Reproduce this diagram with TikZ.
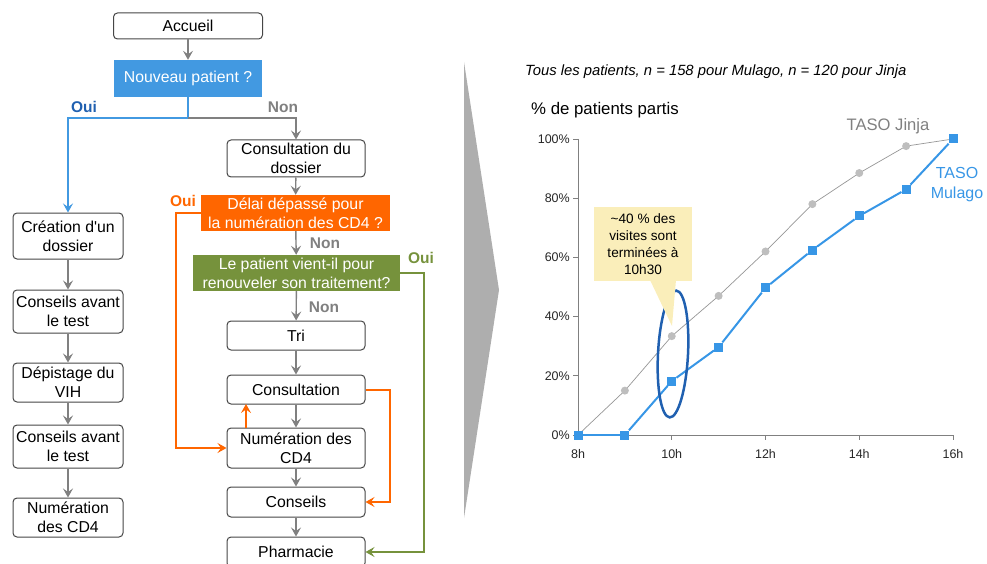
\documentclass[tikz,border=0pt]{standalone}
\usepackage{fontspec}
\setmainfont{Liberation Sans}
\usetikzlibrary{positioning,calc,arrows.meta,shapes.geometric}

\begin{document}
\begin{tikzpicture}[x=1pt, y=-1pt,
                    font=\fontsize{15.8}{19}\selectfont]
  \definecolor{boxedge}{RGB}{70,70,70}
  \definecolor{flowgray}{RGB}{128,128,128}
  \definecolor{askblue}{RGB}{66,153,225}
  \definecolor{ouiblue}{RGB}{32,96,176}
  \definecolor{delaiorange}{RGB}{255,102,0}
  \definecolor{renewolive}{RGB}{118,146,60}
  \definecolor{mulagoblue}{RGB}{55,150,230}
  \definecolor{jinjagray}{RGB}{150,150,150}
  \definecolor{jinjadot}{RGB}{190,190,190}
  \definecolor{notefill}{RGB}{250,238,186}
  \definecolor{chevrongray}{RGB}{174,174,174}
  \tikzset{
    stepbox/.style={draw=boxedge, line width=1pt, rounded corners=4pt,
      fill=white, align=center, inner sep=0pt, text=black},
    leftbox/.style={stepbox, minimum width=110pt},
    rightbox/.style={stepbox, minimum width=138pt},
    askbox/.style={align=center, inner sep=0pt, text=white},
    tipshape/.style={-{Stealth[length=9pt,width=10pt,inset=3.5pt]}},
    flowarrow/.style={draw=flowgray, line width=1.4pt, tipshape},
    ouiarrow/.style={draw=askblue, line width=1.6pt, tipshape},
    delaiarrow/.style={draw=delaiorange, line width=2pt, tipshape},
    olivearrow/.style={draw=renewolive, line width=1.5pt, tipshape},
    answer/.style={font=\fontsize{15.5}{17}\selectfont\bfseries, inner sep=0pt},
    axisline/.style={draw=flowgray, line width=0.9pt},
    ticklabel/.style={font=\fontsize{12.5}{14}\selectfont, text=black!85, inner sep=0pt},
    jinjamark/.style={circle, fill=jinjadot, minimum size=8pt, inner sep=0pt},
    mulagomark/.style={rectangle, fill=mulagoblue, minimum size=9pt, inner sep=0pt},
    jinjaline/.style={draw=jinjagray, line width=0.7pt},
    mulagoline/.style={draw=mulagoblue, line width=2pt},
    focusring/.style={ellipse, draw=ouiblue, line width=2.5pt,
      minimum width=30pt, minimum height=127pt, inner sep=0pt}
  }
  \useasboundingbox (0,0) rectangle (987,564);

  % flow on the left
  \node[stepbox, minimum width=149pt, minimum height=26pt] (accueil) at (188,26) {Accueil};
  \node[askbox, fill=askblue, minimum width=148pt, minimum height=37pt] (nouveau) at (188,78.5) {Nouveau patient ?};
  \coordinate (split) at (188,118);
  \node[answer, text=ouiblue] (oui1) at (84,107) {Oui};
  \node[answer, text=flowgray] (non1) at (283,107) {Non};

  \node[leftbox, minimum height=46pt] (creation) at (68,236) {Création d\textquotesingle un\\dossier};
  \node[leftbox, minimum height=43pt] (conseilsa) at (68,311.5) {Conseils avant\\le test};
  \node[leftbox, minimum height=39pt] (depistage) at (68,382.5) {Dépistage du\\VIH};
  \node[leftbox, minimum height=43pt] (conseilsb) at (68,446.5) {Conseils avant\\le test};
  \node[leftbox, minimum height=39pt] (numleft) at (68,517.5) {Numération\\des CD4};

  \node[rightbox, minimum height=37pt] (dossier) at (296,158.5) {Consultation du\\dossier};
  \node[askbox, fill=delaiorange, minimum width=189pt, minimum height=36pt] (delai) at (295.5,213) {Délai dépassé pour\\la numération des CD4 ?};
  \node[askbox, fill=renewolive, minimum width=207pt, minimum height=36pt] (renew) at (296.5,273) {Le patient vient-il pour\\renouveler son traitement?};
  \node[answer, text=delaiorange] (oui2) at (183,201) {Oui};
  \node[answer, text=flowgray] (non2) at (325,243) {Non};
  \node[answer, text=renewolive] (oui3) at (421,258) {Oui};
  \node[answer, text=flowgray] (non3) at (324,307) {Non};
  \node[rightbox, minimum height=29pt] (tri) at (296,335.5) {Tri};
  \node[rightbox, minimum height=29pt] (consult) at (296,389.5) {Consultation};
  \node[rightbox, minimum height=40pt] (numcd) at (296,448) {Numération des\\CD4};
  \node[rightbox, minimum height=30pt] (conseils) at (296,502) {Conseils};
  \node[rightbox, minimum height=30pt] (pharma) at (296,552) {Pharmacie};
  \coordinate (loopright) at (389.5,389.5);
  \coordinate (upfoot) at (246,428);
  \coordinate (uphead) at (246,404);

  \draw[flowarrow] (accueil) -- (nouveau);
  \draw[draw=askblue, line width=1.6pt] (nouveau.south) -- (split);
  \draw[ouiarrow] (split) -| (creation.north);
  \draw[flowarrow] (split) -| (dossier.north);
  \draw[flowarrow] (creation) -- (conseilsa);
  \draw[flowarrow] (conseilsa) -- (depistage);
  \draw[flowarrow] (depistage) -- (conseilsb);
  \draw[flowarrow] (conseilsb) -- (numleft);
  \draw[flowarrow] (dossier) -- (delai);
  \draw[flowarrow] (delai) -- (renew);
  \draw[flowarrow] (renew) -- (tri);
  \draw[flowarrow] (tri) -- (consult);
  \draw[flowarrow] (consult) -- (numcd);
  \draw[flowarrow] (numcd) -- (conseils);
  \draw[flowarrow] (conseils) -- (pharma);
  \draw[delaiarrow] (delai.west) -- ++(-25,0) |- (numcd.west);
  \draw[delaiarrow] (upfoot) -- (uphead);
  \draw[delaiarrow] (consult.east) -- (loopright) |- (conseils.east);
  \draw[olivearrow] (renew.east) -- ++(24,0) |- (pharma.east);

  % chevron
  \fill[chevrongray] (464,62) -- (499,290) -- (464,518) -- cycle;

  % chart on the right
  \node[anchor=west, font=\fontsize{14.8}{17}\selectfont\itshape, inner sep=0pt] (title) at (525,72)
    {Tous les patients, n = 158 pour Mulago, n = 120 pour Jinja};
  \node[anchor=west, font=\fontsize{16.8}{19}\selectfont, inner sep=0pt] (ytitle) at (531,110) {\% de patients partis};
  \node[font=\fontsize{16.6}{19}\selectfont, text=flowgray, inner sep=0pt] (jinjaname) at (888,126) {TASO Jinja};
  \node[font=\fontsize{16}{20}\selectfont, text=mulagoblue, align=center, inner sep=0pt] (mulagoname) at (957,185) {TASO\\Mulago};

  \begin{scope}[shift={(578,435)}, x=46.875pt, y=2.96pt]
    \draw[axisline] (0,100) -- (0,0) -- (8,0);
    \foreach \p in {0,20,...,100} {
      \draw[axisline] (0,\p) -- ++(-5pt,0);
      \node[ticklabel, anchor=east] (ylab\p) at ($(0,\p)+(-8pt,0)$) {\p\%};
    }
    \foreach \x/\hr in {0/8,2/10,4/12,6/14,8/16} {
      \draw[axisline] (\x,0) -- ++(0,-5pt);
      \node[ticklabel, anchor=north] (xlab\hr) at ($(\x,0)+(0,-14pt)$) {\hr h};
    }
    % TASO Jinja
    \foreach \h/\v [count=\i] in {0/0,1/15,2/33.4,3/47,4/62,5/78,6/88.5,7/97.6,8/100}
      \coordinate (j\i) at (\h,\v);
    \foreach \i [count=\k from 2] in {1,...,8}
      \draw[jinjaline] (j\i) -- (j\k);
    \foreach \i in {1,...,9}
      \node[jinjamark] (jdot\i) at (j\i) {};
    % TASO Mulago
    \foreach \h/\v [count=\i] in {0/0,1/0,2/18.2,3/29.7,4/49.7,5/62.5,6/74,7/83,8/100}
      \node[mulagomark] (m\i) at (\h,\v) {};
    \foreach \i [count=\k from 2] in {1,...,8}
      \draw[mulagoline] (m\i) -- (m\k);
  \end{scope}

  % callout and ring
  \node[focusring, rotate=-3] (ring) at (673,354) {};
  \fill[notefill] (594,207) rectangle (692,281);
  \fill[notefill] (650,280) -- (672,326) -- (676,280) -- cycle;
  \node[align=center, font=\fontsize{13.6}{17}\selectfont, inner sep=0pt] (note) at (643,244)
    {\textasciitilde 40 \% des\\visites sont\\terminées à\\10h30};
\end{tikzpicture}
\end{document}
